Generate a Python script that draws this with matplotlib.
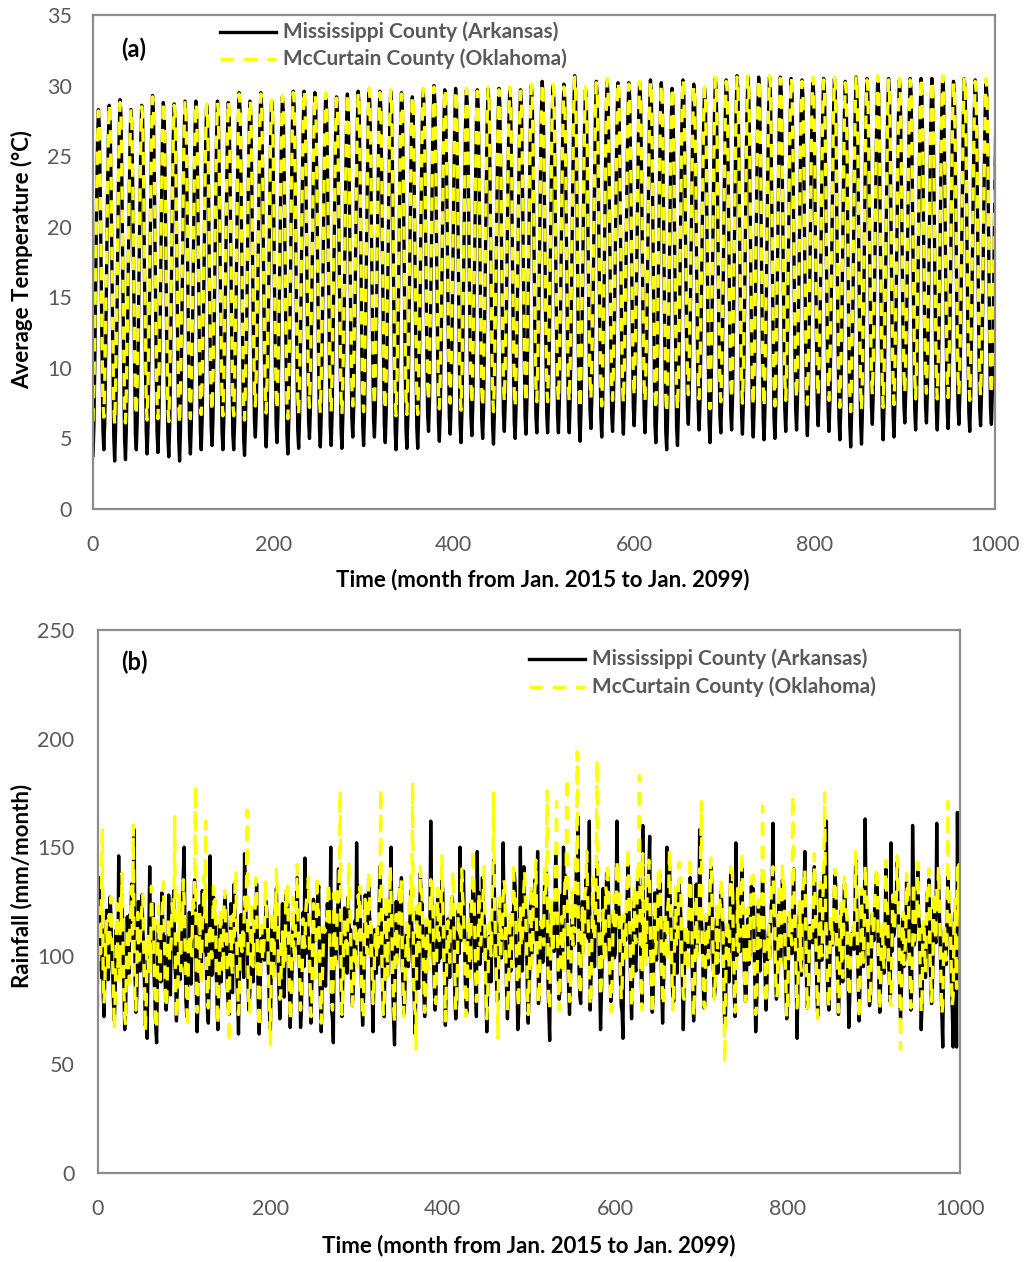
import matplotlib

matplotlib.use("Agg")

import matplotlib.pyplot as plt
import numpy as np
from matplotlib.lines import Line2D

plt.rcParams["font.family"] = ["Lato", "DejaVu Sans"]

# Monthly average temperature (deg C), one row per year, Jan..Dec, 2015-2098
ark_temp_rows = [
    [3.8, 5.9, 10.4, 16.2, 21.5, 25.9, 28.3, 27.1, 22.6, 16.7, 10.4, 5.6],
    [4.2, 6.1, 10.9, 16.5, 21.8, 26.2, 28.6, 27.5, 23.0, 16.9, 10.8, 5.2],
    [3.4, 5.5, 10.1, 16.0, 21.7, 26.5, 29.0, 27.9, 23.3, 16.5, 10.2, 5.0],
    [3.5, 5.8, 10.3, 16.4, 21.3, 25.8, 28.3, 27.2, 22.8, 16.8, 10.5, 5.3],
    [4.2, 6.2, 10.8, 16.6, 21.6, 26.1, 28.6, 27.6, 23.1, 17.0, 10.9, 5.5],
    [3.9, 5.8, 10.6, 16.3, 21.9, 26.8, 29.3, 28.1, 23.6, 16.9, 10.6, 5.4],
    [4.0, 6.0, 10.7, 16.2, 21.6, 26.3, 28.8, 27.7, 23.2, 16.7, 10.4, 5.2],
    [3.7, 5.7, 10.3, 16.5, 21.8, 26.2, 28.7, 27.6, 23.0, 16.8, 10.6, 5.0],
    [3.4, 5.6, 10.2, 16.1, 21.5, 26.4, 28.9, 27.8, 23.4, 16.6, 10.3, 5.3],
    [3.9, 6.0, 10.6, 16.4, 21.7, 26.5, 28.9, 27.7, 23.3, 17.0, 10.8, 5.5],
    [4.2, 6.3, 10.9, 16.7, 21.9, 26.1, 28.6, 27.5, 23.0, 16.9, 10.7, 5.8],
    [4.5, 6.4, 11.1, 16.6, 21.8, 26.4, 28.9, 27.9, 23.4, 17.1, 11.0, 5.6],
    [4.2, 6.2, 10.8, 16.5, 21.7, 26.3, 28.8, 27.7, 23.2, 16.8, 10.6, 5.3],
    [4.2, 6.1, 10.9, 16.8, 22.1, 27.0, 29.5, 28.3, 23.8, 17.2, 10.9, 5.0],
    [3.8, 5.9, 10.5, 16.4, 21.8, 26.4, 28.9, 27.8, 23.3, 17.0, 11.0, 6.2],
    [5.1, 7.0, 11.6, 17.1, 22.3, 27.0, 29.5, 28.4, 23.9, 17.4, 11.2, 5.9],
    [4.4, 6.4, 11.0, 16.7, 21.9, 26.5, 28.9, 27.8, 23.3, 17.0, 11.0, 6.0],
    [4.7, 6.7, 11.3, 16.9, 22.1, 26.7, 29.2, 28.1, 23.6, 17.2, 10.8, 5.3],
    [3.9, 6.1, 10.8, 16.9, 22.3, 27.1, 29.6, 28.5, 24.0, 17.3, 11.1, 5.6],
    [4.3, 6.4, 11.1, 17.0, 22.4, 27.1, 29.6, 28.4, 23.9, 17.5, 11.4, 6.3],
    [5.0, 7.0, 11.7, 17.2, 22.4, 27.0, 29.5, 28.4, 23.8, 17.3, 11.0, 5.8],
    [4.4, 6.5, 11.2, 17.0, 22.2, 26.9, 29.4, 28.3, 23.8, 17.4, 11.2, 5.9],
    [4.5, 6.5, 11.1, 16.8, 22.1, 26.7, 29.2, 28.1, 23.6, 17.2, 11.0, 5.7],
    [4.3, 6.5, 11.2, 17.0, 22.3, 26.9, 29.4, 28.3, 23.8, 17.5, 11.5, 6.4],
    [5.1, 7.1, 11.7, 17.3, 22.5, 27.1, 29.6, 28.5, 24.0, 17.6, 11.3, 5.9],
    [4.5, 6.6, 11.3, 17.2, 22.6, 27.2, 29.7, 28.6, 24.1, 17.7, 11.6, 6.4],
    [5.1, 7.1, 11.7, 17.3, 22.5, 27.1, 29.6, 28.5, 24.0, 17.5, 11.3, 6.0],
    [4.7, 6.7, 11.4, 17.1, 22.4, 27.1, 29.6, 28.5, 24.0, 17.4, 11.1, 5.6],
    [4.2, 6.3, 11.0, 16.9, 22.3, 27.0, 29.5, 28.4, 23.9, 17.3, 11.0, 5.6],
    [4.3, 6.4, 11.0, 16.8, 22.1, 26.7, 29.2, 28.1, 23.6, 17.2, 11.0, 5.7],
    [4.3, 6.5, 11.2, 17.1, 22.5, 27.2, 29.7, 28.6, 24.1, 17.7, 11.7, 6.7],
    [5.5, 7.5, 12.1, 17.6, 22.8, 27.5, 30.0, 28.9, 24.4, 17.9, 11.6, 6.1],
    [4.8, 6.9, 11.5, 17.3, 22.6, 27.2, 29.7, 28.6, 24.1, 17.8, 11.8, 6.6],
    [5.3, 7.3, 11.9, 17.5, 22.7, 27.3, 29.8, 28.7, 24.2, 17.7, 11.4, 6.0],
    [4.7, 6.8, 11.5, 17.3, 22.6, 27.2, 29.7, 28.6, 24.1, 17.7, 11.7, 6.5],
    [5.2, 7.2, 11.8, 17.4, 22.6, 27.2, 29.7, 28.6, 24.1, 17.6, 11.5, 6.3],
    [5.0, 7.1, 11.8, 17.5, 22.7, 27.3, 29.8, 28.7, 24.2, 17.7, 11.4, 5.9],
    [4.6, 6.8, 11.5, 17.4, 22.7, 27.3, 29.8, 28.7, 24.2, 17.9, 11.9, 6.8],
    [5.5, 7.5, 12.1, 17.6, 22.8, 27.3, 29.8, 28.7, 24.2, 17.8, 11.6, 6.2],
    [5.0, 7.1, 11.8, 17.5, 22.7, 27.2, 29.7, 28.6, 24.1, 17.8, 11.8, 6.6],
    [5.3, 7.4, 12.1, 17.7, 23.0, 27.5, 30.0, 28.9, 24.4, 18.0, 11.9, 6.7],
    [5.4, 7.5, 12.2, 17.9, 23.2, 27.8, 30.3, 29.2, 24.7, 18.2, 12.0, 6.8],
    [5.4, 7.5, 12.1, 17.7, 23.0, 27.5, 30.0, 28.9, 24.4, 18.0, 11.9, 6.7],
    [5.4, 7.5, 12.2, 17.8, 23.1, 27.6, 30.1, 29.0, 24.5, 18.1, 12.0, 6.6],
    [5.4, 7.6, 12.4, 18.2, 23.6, 28.2, 30.7, 29.6, 25.0, 18.4, 11.8, 6.2],
    [4.8, 6.9, 11.6, 17.3, 22.6, 27.2, 29.7, 28.6, 24.1, 17.9, 12.0, 7.0],
    [5.7, 7.8, 12.4, 18.0, 23.2, 27.8, 30.3, 29.2, 24.7, 18.2, 12.0, 6.6],
    [5.1, 7.3, 12.1, 17.9, 23.2, 27.9, 30.4, 29.3, 24.8, 18.3, 12.1, 6.8],
    [5.5, 7.6, 12.3, 17.9, 23.1, 27.7, 30.2, 29.1, 24.6, 18.1, 12.0, 6.8],
    [5.3, 7.5, 12.2, 17.9, 23.1, 27.7, 30.2, 29.1, 24.6, 18.3, 12.3, 7.2],
    [5.9, 8.0, 12.6, 18.1, 23.2, 27.7, 30.2, 29.1, 24.6, 18.2, 12.0, 6.7],
    [5.4, 7.6, 12.3, 18.0, 23.3, 27.9, 30.4, 29.3, 24.8, 18.1, 11.6, 6.0],
    [4.7, 6.9, 11.7, 17.6, 23.0, 27.7, 30.2, 29.1, 24.6, 17.8, 11.1, 5.5],
    [4.2, 6.4, 11.2, 17.2, 22.6, 27.3, 29.8, 28.7, 24.2, 17.6, 11.2, 5.8],
    [4.5, 6.8, 11.7, 17.7, 23.2, 27.9, 30.4, 29.3, 24.8, 18.4, 12.3, 7.3],
    [6.0, 8.0, 12.6, 18.1, 23.2, 27.6, 30.1, 29.0, 24.5, 18.3, 12.3, 7.1],
    [5.6, 7.6, 12.2, 17.7, 22.8, 27.3, 29.8, 28.7, 24.2, 17.8, 11.5, 6.2],
    [4.7, 7.0, 11.9, 17.9, 23.3, 28.0, 30.5, 29.4, 24.9, 18.3, 11.9, 6.6],
    [5.4, 7.6, 12.3, 18.0, 23.3, 27.9, 30.4, 29.3, 24.8, 18.3, 12.2, 6.9],
    [5.6, 7.8, 12.5, 18.3, 23.6, 28.2, 30.7, 29.6, 25.1, 18.5, 12.2, 6.8],
    [5.3, 7.5, 12.3, 18.1, 23.5, 28.1, 30.6, 29.5, 25.0, 18.4, 12.1, 6.6],
    [5.1, 7.3, 12.1, 18.0, 23.4, 28.1, 30.6, 29.5, 25.0, 18.3, 11.9, 6.4],
    [4.9, 7.2, 12.0, 17.9, 23.4, 28.1, 30.6, 29.5, 25.0, 18.4, 12.0, 6.5],
    [5.0, 7.3, 12.1, 18.0, 23.4, 28.1, 30.6, 29.5, 25.0, 18.5, 12.3, 7.0],
    [5.5, 7.7, 12.4, 18.1, 23.4, 28.0, 30.5, 29.4, 24.9, 18.5, 12.4, 7.1],
    [5.6, 7.8, 12.4, 18.1, 23.3, 27.9, 30.4, 29.3, 24.8, 18.3, 12.1, 6.8],
    [5.2, 7.4, 12.2, 18.0, 23.3, 28.0, 30.5, 29.4, 24.9, 18.5, 12.4, 7.3],
    [5.9, 8.0, 12.7, 18.3, 23.4, 28.0, 30.5, 29.4, 24.9, 18.5, 12.2, 6.9],
    [5.5, 7.6, 12.3, 18.0, 23.3, 28.0, 30.5, 29.4, 24.9, 18.3, 11.9, 6.4],
    [4.9, 7.1, 11.9, 17.8, 23.1, 27.8, 30.3, 29.2, 24.7, 18.0, 11.6, 6.0],
    [4.4, 6.7, 11.6, 17.7, 23.2, 28.1, 30.6, 29.5, 25.0, 18.2, 11.6, 6.2],
    [4.6, 6.9, 11.8, 17.8, 23.3, 28.0, 30.5, 29.4, 24.9, 18.5, 12.4, 7.3],
    [6.0, 8.1, 12.8, 18.4, 23.6, 28.1, 30.6, 29.5, 25.0, 18.4, 12.0, 6.6],
    [4.9, 7.2, 12.0, 17.9, 23.3, 28.0, 30.5, 29.4, 24.9, 18.3, 12.0, 6.7],
    [5.1, 7.3, 12.1, 17.9, 23.2, 27.9, 30.4, 29.3, 24.8, 18.5, 12.5, 7.4],
    [6.1, 8.2, 12.8, 18.4, 23.5, 28.0, 30.5, 29.4, 24.9, 18.6, 12.4, 7.1],
    [5.6, 7.8, 12.5, 18.2, 23.4, 28.0, 30.5, 29.4, 24.9, 18.6, 12.5, 7.3],
    [6.1, 8.2, 12.8, 18.4, 23.5, 28.0, 30.5, 29.4, 24.9, 18.5, 12.2, 6.9],
    [5.6, 7.8, 12.5, 18.3, 23.5, 28.1, 30.6, 29.5, 25.0, 18.5, 12.2, 7.0],
    [5.7, 7.8, 12.5, 18.1, 23.3, 27.8, 30.3, 29.2, 24.7, 18.4, 12.3, 7.2],
    [6.0, 8.1, 12.8, 18.3, 23.5, 28.0, 30.5, 29.4, 24.9, 18.4, 12.1, 6.8],
    [5.5, 7.7, 12.4, 18.1, 23.3, 27.9, 30.4, 29.3, 24.8, 18.4, 12.3, 7.1],
    [5.9, 8.0, 12.7, 18.2, 23.4, 27.9, 30.4, 29.3, 24.8, 18.5, 12.3, 7.1],
    [6.0, 8.1, 12.7, 18.3, 23.4, 27.9, 30.4, 29.3, 24.8, 18.5, 12.4, 7.2],
]
ark_temp_last = 6.1  # Jan. 2099

mcc_temp_rows = [
    [6.2, 8.5, 12.6, 17.3, 21.8, 25.9, 28.2, 27.6, 23.4, 17.9, 11.9, 7.6],
    [6.5, 8.7, 12.9, 17.6, 22.1, 26.4, 28.7, 28.1, 23.9, 18.1, 12.1, 7.4],
    [6.0, 8.3, 12.4, 17.2, 22.0, 26.5, 28.8, 28.2, 24.0, 17.8, 11.8, 7.3],
    [6.1, 8.4, 12.6, 17.5, 21.8, 26.1, 28.4, 27.8, 23.6, 18.0, 12.0, 7.7],
    [6.6, 8.9, 13.0, 17.7, 22.0, 26.2, 28.5, 27.9, 23.7, 18.2, 12.2, 7.5],
    [6.3, 8.6, 12.8, 17.5, 22.3, 26.9, 29.2, 28.6, 24.4, 18.1, 12.0, 7.6],
    [6.4, 8.7, 12.8, 17.4, 22.0, 26.6, 28.9, 28.3, 24.1, 17.9, 11.9, 7.4],
    [6.2, 8.5, 12.6, 17.6, 22.1, 26.3, 28.6, 28.0, 23.8, 18.0, 12.0, 7.3],
    [6.0, 8.3, 12.5, 17.3, 21.9, 26.7, 29.0, 28.4, 24.2, 17.8, 11.8, 7.6],
    [6.4, 8.7, 12.8, 17.6, 22.0, 26.5, 28.8, 28.2, 24.0, 18.2, 12.3, 7.8],
    [6.7, 9.0, 13.1, 17.8, 22.2, 26.4, 28.7, 28.1, 23.9, 18.1, 12.2, 8.0],
    [6.9, 9.2, 13.3, 17.8, 22.2, 26.5, 28.8, 28.2, 24.0, 18.3, 12.4, 7.9],
    [6.6, 8.9, 13.0, 17.7, 22.1, 26.6, 28.9, 28.3, 24.1, 18.0, 12.0, 7.6],
    [6.6, 8.9, 13.0, 17.9, 22.5, 27.1, 29.4, 28.8, 24.6, 18.4, 12.3, 7.4],
    [6.3, 8.6, 12.8, 17.6, 22.2, 26.7, 29.0, 28.4, 24.2, 18.3, 12.5, 8.3],
    [7.3, 9.6, 13.7, 18.2, 22.6, 27.1, 29.4, 28.8, 24.6, 18.6, 12.6, 8.1],
    [6.8, 9.1, 13.2, 17.9, 22.3, 26.7, 29.0, 28.4, 24.2, 18.3, 12.4, 8.2],
    [7.0, 9.3, 13.4, 18.0, 22.5, 27.0, 29.3, 28.7, 24.5, 18.4, 12.2, 7.6],
    [6.4, 8.7, 12.9, 17.9, 22.6, 27.2, 29.5, 28.9, 24.7, 18.5, 12.5, 7.9],
    [6.7, 9.0, 13.1, 18.1, 22.8, 27.4, 29.7, 29.1, 24.9, 18.7, 12.8, 8.5],
    [7.2, 9.5, 13.6, 18.2, 22.7, 27.1, 29.4, 28.8, 24.6, 18.5, 12.4, 8.0],
    [6.8, 9.1, 13.2, 18.1, 22.6, 27.2, 29.5, 28.9, 24.7, 18.6, 12.6, 8.1],
    [6.9, 9.2, 13.3, 17.9, 22.4, 26.8, 29.1, 28.5, 24.3, 18.4, 12.4, 7.9],
    [6.7, 9.0, 13.2, 18.1, 22.7, 27.2, 29.5, 28.9, 24.7, 18.7, 12.9, 8.6],
    [7.3, 9.6, 13.7, 18.3, 22.8, 27.2, 29.5, 28.9, 24.7, 18.7, 12.7, 8.1],
    [6.9, 9.2, 13.4, 18.3, 23.0, 27.5, 29.8, 29.2, 25.0, 18.9, 13.0, 8.6],
    [7.3, 9.6, 13.7, 18.3, 22.8, 27.2, 29.5, 28.9, 24.7, 18.7, 12.7, 8.2],
    [7.0, 9.3, 13.5, 18.2, 22.8, 27.4, 29.7, 29.1, 24.9, 18.6, 12.5, 7.8],
    [6.6, 8.9, 13.1, 18.0, 22.6, 27.1, 29.4, 28.8, 24.6, 18.5, 12.4, 7.8],
    [6.7, 9.0, 13.1, 17.9, 22.5, 27.0, 29.3, 28.7, 24.5, 18.4, 12.4, 7.9],
    [6.7, 9.0, 13.2, 18.2, 22.9, 27.5, 29.8, 29.2, 25.0, 18.9, 13.1, 8.8],
    [7.6, 9.9, 14.0, 18.6, 23.1, 27.6, 29.9, 29.3, 25.1, 19.0, 12.9, 8.3],
    [7.1, 9.4, 13.6, 18.4, 23.0, 27.5, 29.8, 29.2, 25.0, 19.0, 13.1, 8.7],
    [7.5, 9.8, 13.9, 18.5, 22.9, 27.4, 29.7, 29.1, 24.9, 18.8, 12.7, 8.2],
    [7.0, 9.3, 13.5, 18.3, 23.0, 27.5, 29.8, 29.2, 25.0, 18.9, 13.0, 8.7],
    [7.4, 9.7, 13.8, 18.4, 22.8, 27.3, 29.6, 29.0, 24.8, 18.8, 12.8, 8.4],
    [7.2, 9.5, 13.7, 18.5, 23.1, 27.6, 29.9, 29.3, 25.1, 18.9, 12.8, 8.2],
    [6.9, 9.2, 13.4, 18.3, 22.9, 27.4, 29.7, 29.1, 24.9, 19.0, 13.2, 8.9],
    [7.6, 9.9, 14.0, 18.6, 23.1, 27.6, 29.9, 29.3, 25.1, 19.0, 12.9, 8.4],
    [7.2, 9.5, 13.6, 18.4, 22.9, 27.3, 29.6, 29.0, 24.8, 18.9, 13.0, 8.7],
    [7.5, 9.8, 14.0, 18.7, 23.3, 27.8, 30.1, 29.5, 25.3, 19.2, 13.2, 8.8],
    [7.6, 9.9, 14.1, 18.8, 23.4, 27.9, 30.2, 29.6, 25.4, 19.3, 13.2, 8.9],
    [7.6, 9.9, 14.0, 18.7, 23.3, 27.8, 30.1, 29.5, 25.3, 19.2, 13.2, 8.8],
    [7.6, 9.9, 14.0, 18.7, 23.2, 27.6, 29.9, 29.3, 25.1, 19.1, 13.1, 8.6],
    [7.6, 9.9, 14.2, 19.0, 23.7, 28.3, 30.6, 30.0, 25.8, 19.4, 13.1, 8.4],
    [7.1, 9.4, 13.6, 18.5, 23.1, 27.6, 29.9, 29.3, 25.1, 19.2, 13.3, 9.1],
    [7.8, 10.1, 14.2, 18.9, 23.4, 27.9, 30.2, 29.6, 25.4, 19.3, 13.3, 8.8],
    [7.3, 9.6, 13.9, 18.8, 23.5, 28.2, 30.5, 29.9, 25.7, 19.5, 13.4, 9.0],
    [7.7, 10.0, 14.2, 18.9, 23.5, 28.0, 30.3, 29.7, 25.5, 19.4, 13.3, 8.9],
    [7.5, 9.8, 14.0, 18.8, 23.3, 27.8, 30.1, 29.5, 25.3, 19.4, 13.5, 9.3],
    [8.0, 10.3, 14.4, 19.0, 23.5, 28.0, 30.3, 29.7, 25.5, 19.4, 13.3, 8.8],
    [7.6, 9.9, 14.1, 18.9, 23.5, 28.0, 30.3, 29.7, 25.5, 19.2, 12.9, 8.2],
    [7.0, 9.3, 13.6, 18.5, 23.2, 27.8, 30.1, 29.5, 25.3, 19.0, 12.8, 8.0],
    [6.8, 9.1, 13.3, 18.3, 23.0, 27.6, 29.9, 29.3, 25.1, 19.0, 13.0, 8.3],
    [7.0, 9.3, 13.7, 18.7, 23.5, 28.2, 30.5, 29.9, 25.7, 19.6, 13.7, 9.5],
    [8.1, 10.4, 14.5, 19.0, 23.4, 27.7, 30.0, 29.4, 25.2, 19.4, 13.5, 9.3],
    [7.8, 10.1, 14.2, 18.8, 23.2, 27.6, 29.9, 29.3, 25.1, 19.0, 12.8, 8.4],
    [7.1, 9.4, 13.8, 18.8, 23.6, 28.3, 30.6, 30.0, 25.8, 19.5, 13.3, 8.8],
    [7.6, 9.9, 14.1, 18.9, 23.5, 28.0, 30.3, 29.7, 25.5, 19.4, 13.4, 9.0],
    [7.8, 10.1, 14.3, 19.1, 23.8, 28.3, 30.6, 30.0, 25.8, 19.6, 13.4, 8.9],
    [7.5, 9.8, 14.1, 19.0, 23.8, 28.4, 30.7, 30.1, 25.9, 19.6, 13.3, 8.8],
    [7.3, 9.6, 13.9, 18.8, 23.6, 28.2, 30.5, 29.9, 25.7, 19.4, 13.2, 8.7],
    [7.2, 9.5, 13.9, 18.9, 23.7, 28.4, 30.7, 30.1, 25.9, 19.6, 13.4, 8.9],
    [7.3, 9.6, 13.9, 18.8, 23.6, 28.2, 30.5, 29.9, 25.7, 19.6, 13.6, 9.2],
    [7.7, 10.0, 14.2, 19.0, 23.7, 28.3, 30.6, 30.0, 25.8, 19.7, 13.7, 9.3],
    [7.8, 10.1, 14.2, 18.9, 23.5, 28.0, 30.3, 29.7, 25.5, 19.4, 13.4, 9.0],
    [7.4, 9.7, 14.0, 18.9, 23.6, 28.3, 30.6, 30.0, 25.8, 19.7, 13.8, 9.5],
    [8.0, 10.3, 14.4, 19.1, 23.6, 28.1, 30.4, 29.8, 25.6, 19.6, 13.5, 9.1],
    [7.7, 10.0, 14.2, 19.0, 23.7, 28.3, 30.6, 30.0, 25.8, 19.5, 13.2, 8.7],
    [7.2, 9.5, 13.8, 18.7, 23.3, 27.9, 30.2, 29.6, 25.4, 19.1, 12.9, 8.3],
    [6.9, 9.2, 13.6, 18.7, 23.6, 28.4, 30.7, 30.1, 25.9, 19.4, 13.1, 8.5],
    [7.0, 9.3, 13.6, 18.6, 23.4, 28.1, 30.4, 29.8, 25.6, 19.6, 13.8, 9.5],
    [8.1, 10.4, 14.6, 19.3, 23.9, 28.4, 30.7, 30.1, 25.9, 19.7, 13.5, 8.9],
    [7.2, 9.5, 13.8, 18.7, 23.4, 28.1, 30.4, 29.8, 25.6, 19.5, 13.4, 9.0],
    [7.4, 9.7, 14.0, 18.8, 23.5, 28.2, 30.5, 29.9, 25.7, 19.7, 13.9, 9.6],
    [8.2, 10.5, 14.6, 19.2, 23.7, 28.1, 30.4, 29.8, 25.6, 19.7, 13.8, 9.4],
    [7.8, 10.1, 14.3, 19.1, 23.7, 28.3, 30.6, 30.0, 25.8, 19.8, 13.8, 9.5],
    [8.2, 10.5, 14.6, 19.2, 23.7, 28.1, 30.4, 29.8, 25.6, 19.6, 13.6, 9.2],
    [7.8, 10.1, 14.4, 19.2, 23.9, 28.4, 30.7, 30.1, 25.9, 19.7, 13.6, 9.3],
    [7.9, 10.2, 14.3, 19.0, 23.4, 27.9, 30.2, 29.6, 25.4, 19.5, 13.6, 9.4],
    [8.1, 10.4, 14.5, 19.2, 23.8, 28.3, 30.6, 30.0, 25.8, 19.7, 13.6, 9.1],
    [7.7, 10.0, 14.2, 18.9, 23.5, 28.0, 30.3, 29.7, 25.5, 19.5, 13.6, 9.3],
    [8.0, 10.3, 14.4, 19.1, 23.6, 28.2, 30.5, 29.9, 25.7, 19.7, 13.7, 9.4],
    [8.1, 10.4, 14.5, 19.1, 23.6, 28.0, 30.3, 29.7, 25.5, 19.6, 13.7, 9.5],
]
mcc_temp_last = 8.2

# Monthly rainfall (mm/month), one row per year, Jan..Dec
ark_rain_rows = [
    [101, 136, 104, 118, 90, 112, 83, 72, 95, 104, 121, 98],
    [89, 110, 127, 119, 98, 92, 78, 70, 84, 112, 101, 92],
    [146, 104, 121, 111, 128, 101, 88, 66, 74, 97, 118, 106],
    [92, 119, 112, 133, 108, 124, 158, 90, 74, 81, 104, 125],
    [99, 93, 116, 128, 113, 102, 84, 68, 77, 62, 97, 110],
    [141, 106, 120, 110, 124, 91, 80, 67, 60, 89, 114, 95],
    [104, 88, 129, 117, 101, 109, 87, 75, 81, 93, 128, 101],
    [82, 113, 107, 123, 130, 97, 91, 70, 86, 110, 99, 89],
    [116, 95, 124, 139, 150, 103, 79, 72, 87, 98, 120, 93],
    [87, 108, 118, 113, 135, 114, 84, 65, 80, 106, 123, 105],
    [96, 130, 110, 119, 102, 118, 90, 74, 69, 90, 146, 113],
    [91, 101, 127, 111, 118, 95, 81, 66, 83, 114, 105, 88],
    [108, 113, 102, 128, 122, 107, 86, 77, 73, 97, 124, 99],
    [83, 117, 133, 116, 105, 92, 80, 64, 90, 104, 119, 110],
    [100, 90, 147, 129, 113, 109, 88, 75, 82, 93, 113, 97],
    [88, 109, 122, 115, 133, 101, 77, 64, 78, 108, 101, 104],
    [113, 98, 111, 125, 119, 105, 89, 73, 66, 95, 117, 91],
    [93, 122, 116, 131, 107, 97, 82, 71, 87, 106, 124, 101],
    [81, 104, 128, 120, 124, 111, 85, 67, 80, 91, 111, 115],
    [103, 116, 108, 136, 114, 100, 91, 67, 75, 105, 120, 95],
    [145, 101, 130, 117, 110, 106, 83, 69, 86, 99, 126, 107],
    [110, 119, 114, 128, 132, 95, 79, 65, 81, 110, 104, 93],
    [86, 107, 124, 119, 116, 109, 150, 75, 71, 60, 114, 102],
    [97, 111, 118, 140, 121, 104, 84, 72, 89, 100, 122, 108],
    [105, 92, 127, 115, 111, 112, 92, 77, 83, 105, 116, 97],
    [152, 120, 113, 132, 126, 99, 81, 68, 79, 95, 128, 111],
    [101, 108, 135, 118, 115, 106, 86, 65, 88, 112, 107, 92],
    [112, 96, 120, 141, 128, 102, 89, 76, 72, 101, 119, 105],
    [91, 117, 110, 124, 150, 108, 83, 70, 59, 90, 125, 99],
    [107, 122, 131, 114, 136, 96, 85, 73, 82, 107, 111, 113],
    [95, 103, 118, 130, 113, 110, 90, 78, 64, 97, 122, 94],
    [85, 114, 138, 121, 124, 105, 82, 72, 87, 113, 103, 109],
    [102, 110, 162, 126, 118, 100, 88, 75, 81, 104, 127, 97],
    [115, 99, 122, 135, 130, 111, 93, 68, 85, 93, 117, 106],
    [90, 119, 116, 127, 121, 103, 81, 71, 78, 109, 121, 101],
    [150, 107, 130, 118, 139, 113, 89, 77, 74, 99, 114, 111],
    [94, 124, 113, 133, 122, 98, 85, 72, 148, 106, 129, 96],
    [109, 102, 136, 120, 117, 110, 87, 65, 83, 95, 109, 103],
    [88, 116, 120, 144, 127, 105, 92, 79, 80, 111, 124, 113],
    [99, 111, 152, 123, 119, 108, 84, 71, 86, 101, 116, 93],
    [114, 120, 117, 138, 131, 101, 90, 66, 73, 107, 150, 107],
    [93, 106, 141, 122, 121, 112, 86, 69, 82, 96, 130, 100],
    [107, 126, 119, 135, 110, 106, 148, 78, 87, 113, 108, 112],
    [97, 112, 132, 128, 140, 109, 88, 74, 61, 103, 120, 104],
    [110, 102, 124, 147, 125, 114, 91, 80, 84, 108, 128, 95],
    [150, 121, 137, 131, 122, 104, 85, 73, 89, 101, 117, 115],
    [105, 116, 126, 140, 134, 164, 94, 81, 78, 111, 125, 102],
    [118, 109, 135, 124, 129, 108, 162, 75, 91, 106, 113, 108],
    [95, 125, 120, 143, 117, 111, 87, 66, 83, 98, 131, 105],
    [111, 105, 138, 127, 136, 101, 92, 79, 85, 114, 119, 99],
    [101, 123, 162, 131, 123, 113, 90, 77, 74, 62, 110, 116],
    [107, 118, 129, 145, 120, 106, 86, 71, 88, 109, 126, 96],
    [93, 110, 136, 123, 132, 116, 93, 78, 160, 102, 114, 110],
    [113, 100, 122, 139, 155, 103, 88, 74, 81, 107, 129, 100],
    [98, 121, 131, 118, 137, 110, 85, 69, 86, 96, 116, 112],
    [150, 113, 119, 141, 122, 107, 91, 80, 79, 111, 124, 94],
    [92, 126, 134, 127, 119, 112, 87, 66, 90, 101, 111, 107],
    [106, 104, 121, 136, 130, 100, 83, 70, 82, 108, 133, 102],
    [112, 117, 158, 122, 116, 109, 89, 76, 77, 97, 119, 114],
    [96, 110, 128, 141, 134, 105, 94, 81, 85, 112, 122, 92],
    [108, 122, 118, 130, 120, 113, 88, 68, 73, 104, 113, 109],
    [88, 114, 139, 125, 127, 102, 84, 72, 152, 100, 127, 103],
    [110, 102, 124, 142, 114, 108, 91, 79, 81, 110, 117, 96],
    [100, 119, 132, 120, 131, 110, 86, 65, 76, 95, 123, 111],
    [93, 107, 120, 137, 124, 103, 89, 75, 87, 106, 112, 99],
    [114, 123, 127, 161, 119, 111, 92, 80, 83, 109, 129, 104],
    [97, 111, 135, 123, 129, 99, 85, 71, 78, 98, 118, 113],
    [108, 101, 121, 140, 116, 106, 90, 62, 86, 111, 124, 94],
    [91, 120, 130, 126, 148, 112, 87, 76, 81, 103, 114, 107],
    [111, 106, 118, 141, 122, 101, 83, 72, 89, 108, 130, 98],
    [98, 124, 137, 120, 115, 162, 91, 78, 75, 96, 116, 112],
    [105, 109, 125, 138, 131, 104, 88, 73, 84, 113, 121, 93],
    [88, 118, 133, 122, 119, 114, 92, 67, 79, 100, 110, 108],
    [113, 103, 119, 144, 127, 102, 86, 70, 87, 106, 128, 101],
    [95, 115, 163, 125, 121, 110, 89, 77, 80, 94, 119, 114],
    [107, 123, 128, 137, 133, 106, 85, 74, 88, 110, 113, 97],
    [92, 108, 140, 121, 117, 99, 90, 79, 152, 102, 125, 109],
    [112, 119, 122, 143, 124, 111, 84, 71, 83, 107, 118, 95],
    [99, 105, 134, 119, 130, 103, 92, 75, 85, 160, 131, 105],
    [109, 121, 117, 139, 118, 113, 87, 66, 79, 112, 115, 100],
    [90, 110, 129, 124, 135, 101, 89, 78, 87, 104, 126, 110],
    [106, 161, 119, 137, 122, 107, 86, 72, 58, 99, 112, 102],
    [96, 116, 138, 122, 118, 109, 90, 76, 58, 108, 123, 103],
    [58, 166, 117, 139, 128, 105, 88, 74, 81, 101, 117, 107],
]
ark_rain_last = 98

mcc_rain_rows = [
    [76, 110, 122, 101, 131, 158, 91, 78, 86, 110, 116, 101],
    [92, 119, 107, 127, 114, 97, 85, 66, 81, 105, 124, 95],
    [103, 89, 129, 116, 138, 108, 83, 72, 68, 98, 113, 109],
    [87, 113, 120, 132, 110, 160, 95, 79, 75, 93, 120, 103],
    [98, 106, 116, 123, 128, 104, 88, 65, 79, 108, 109, 90],
    [110, 96, 132, 118, 120, 100, 81, 69, 66, 95, 123, 106],
    [89, 116, 111, 129, 134, 110, 89, 76, 83, 103, 118, 98],
    [101, 108, 124, 120, 117, 164, 84, 71, 78, 91, 128, 111],
    [93, 121, 114, 135, 125, 105, 91, 77, 67, 107, 110, 100],
    [108, 100, 128, 122, 131, 178, 87, 74, 81, 99, 120, 94],
    [87, 117, 119, 137, 118, 162, 93, 79, 76, 109, 115, 105],
    [99, 111, 132, 118, 126, 102, 82, 68, 84, 96, 122, 108],
    [105, 92, 121, 130, 114, 109, 90, 76, 60, 101, 118, 96],
    [91, 119, 109, 133, 139, 106, 86, 73, 80, 111, 107, 102],
    [111, 104, 127, 119, 122, 167, 94, 78, 74, 94, 125, 108],
    [95, 116, 117, 136, 129, 99, 83, 67, 85, 106, 114, 98],
    [102, 109, 134, 124, 116, 111, 89, 74, 59, 97, 121, 110],
    [88, 123, 113, 140, 127, 103, 92, 80, 82, 108, 111, 93],
    [108, 98, 130, 121, 133, 107, 85, 70, 77, 102, 127, 106],
    [97, 114, 119, 142, 118, 101, 91, 75, 83, 95, 117, 109],
    [104, 120, 126, 128, 136, 110, 87, 72, 74, 112, 124, 97],
    [90, 106, 137, 122, 120, 105, 82, 69, 86, 100, 113, 111],
    [112, 117, 116, 134, 129, 108, 93, 79, 75, 90, 129, 101],
    [96, 110, 131, 125, 138, 176, 88, 73, 81, 107, 118, 104],
    [107, 100, 120, 143, 124, 112, 90, 77, 84, 98, 116, 96],
    [93, 122, 128, 119, 132, 102, 85, 71, 72, 110, 126, 108],
    [101, 112, 139, 131, 117, 109, 92, 78, 87, 103, 112, 99],
    [113, 104, 124, 127, 177, 106, 86, 73, 79, 96, 128, 107],
    [91, 118, 117, 141, 126, 111, 89, 76, 69, 109, 119, 97],
    [106, 110, 133, 124, 135, 101, 83, 72, 85, 99, 115, 112],
    [98, 126, 122, 137, 120, 180, 91, 77, 74, 57, 123, 102],
    [109, 102, 141, 129, 128, 107, 87, 74, 83, 111, 117, 95],
    [94, 118, 135, 122, 136, 113, 93, 80, 78, 101, 131, 109],
    [107, 113, 125, 146, 123, 105, 85, 70, 86, 107, 116, 100],
    [97, 121, 118, 133, 139, 110, 90, 75, 81, 96, 124, 111],
    [110, 106, 140, 127, 122, 103, 88, 72, 75, 113, 118, 97],
    [90, 119, 129, 149, 130, 115, 92, 79, 87, 103, 129, 105],
    [105, 111, 122, 130, 141, 107, 84, 71, 80, 100, 115, 110],
    [100, 124, 138, 175, 125, 109, 91, 77, 62, 108, 127, 98],
    [112, 108, 127, 135, 132, 102, 86, 74, 83, 97, 120, 107],
    [95, 122, 143, 124, 128, 112, 93, 81, 76, 112, 122, 104],
    [108, 114, 130, 139, 122, 108, 88, 73, 85, 105, 133, 96],
    [98, 128, 123, 132, 144, 106, 90, 78, 82, 110, 116, 113],
    [111, 105, 142, 128, 133, 176, 94, 80, 75, 99, 125, 102],
    [101, 119, 132, 147, 171, 111, 89, 75, 87, 107, 118, 108],
    [92, 125, 137, 133, 182, 116, 92, 79, 80, 102, 130, 105],
    [113, 111, 146, 139, 194, 123, 95, 82, 86, 114, 122, 100],
    [103, 129, 131, 148, 128, 110, 90, 77, 83, 106, 136, 110],
    [107, 117, 140, 190, 137, 114, 93, 81, 88, 109, 121, 103],
    [97, 132, 128, 143, 131, 108, 87, 74, 79, 101, 128, 114],
    [111, 115, 144, 135, 139, 117, 94, 80, 85, 112, 119, 99],
    [100, 126, 133, 150, 126, 111, 91, 76, 81, 105, 132, 108],
    [106, 114, 141, 137, 183, 113, 89, 75, 147, 97, 117, 111],
    [95, 128, 130, 144, 132, 107, 87, 73, 84, 110, 126, 101],
    [109, 111, 138, 131, 140, 115, 93, 79, 77, 100, 120, 112],
    [98, 122, 127, 149, 129, 109, 88, 75, 86, 108, 133, 104],
    [105, 118, 143, 134, 136, 103, 92, 81, 80, 98, 115, 110],
    [93, 125, 132, 146, 125, 112, 86, 72, 83, 106, 128, 100],
    [110, 113, 140, 138, 171, 107, 90, 77, 76, 111, 119, 107],
    [99, 120, 129, 145, 134, 110, 94, 80, 87, 102, 124, 97],
    [106, 127, 122, 136, 128, 114, 87, 51, 78, 108, 117, 112],
    [94, 116, 141, 130, 139, 106, 89, 74, 84, 100, 131, 102],
    [111, 109, 128, 148, 124, 113, 92, 79, 81, 112, 122, 105],
    [97, 123, 136, 131, 137, 108, 85, 73, 77, 97, 126, 109],
    [104, 115, 125, 169, 130, 104, 91, 78, 86, 107, 114, 99],
    [108, 129, 134, 141, 123, 116, 93, 81, 82, 110, 133, 105],
    [96, 112, 143, 128, 135, 102, 87, 72, 79, 99, 120, 113],
    [109, 105, 174, 142, 121, 109, 90, 76, 85, 109, 125, 97],
    [93, 124, 132, 134, 140, 113, 88, 75, 80, 104, 116, 108],
    [107, 111, 124, 147, 127, 105, 84, 71, 88, 111, 134, 101],
    [100, 127, 139, 175, 119, 111, 92, 79, 76, 97, 119, 114],
    [105, 113, 130, 140, 136, 106, 89, 74, 83, 114, 124, 94],
    [90, 122, 137, 129, 123, 116, 93, 82, 81, 102, 112, 110],
    [113, 107, 123, 148, 132, 104, 87, 71, 86, 108, 131, 103],
    [97, 118, 142, 130, 125, 112, 90, 78, 79, 96, 121, 115],
    [109, 126, 132, 141, 138, 108, 86, 75, 89, 112, 115, 99],
    [94, 111, 144, 125, 121, 101, 91, 80, 77, 104, 128, 111],
    [114, 121, 126, 146, 129, 113, 85, 57, 84, 109, 120, 96],
    [101, 108, 138, 123, 135, 105, 93, 76, 86, 99, 134, 107],
    [110, 123, 120, 143, 122, 115, 88, 74, 80, 113, 117, 102],
    [92, 113, 133, 128, 140, 103, 90, 79, 88, 106, 129, 112],
    [107, 131, 122, 141, 126, 110, 87, 73, 78, 101, 115, 104],
    [98, 118, 171, 127, 122, 112, 91, 77, 81, 110, 126, 105],
    [85, 143, 119, 142, 132, 107, 89, 75, 82, 103, 119, 109],
]
mcc_rain_last = 100

ark_label = "Mississippi County (Arkansas)"
mcc_label = "McCurtain County (Oklahoma)"
x_label = "Time (month from Jan. 2015 to Jan. 2099)"


def flatten(rows, last):
    return np.array([v for row in rows for v in row] + [last], dtype=float)


ark_temp = flatten(ark_temp_rows, ark_temp_last)
mcc_temp = flatten(mcc_temp_rows, mcc_temp_last)
ark_rain = flatten(ark_rain_rows, ark_rain_last)
mcc_rain = flatten(mcc_rain_rows, mcc_rain_last)
months = np.arange(len(ark_temp))

W, H = 1027, 1262
fig = plt.figure(figsize=(W / 100, H / 100), dpi=100)

GRAY = "#595959"
SPINE = "#8c8c8c"
YELLOW = "#ffff00"
LW = 2.4
DASH = (0, (4, 3))


def px_box(left, top, right, bottom):
    return [left / W, 1 - bottom / H, (right - left) / W, (bottom - top) / H]


def style_axes(ax, ymax, ystep, ypad):
    ax.set_xlim(0, 1000)
    ax.set_ylim(0, ymax)
    ax.set_xticks(np.arange(0, 1001, 200))
    ax.set_yticks(np.arange(0, ymax + 1, ystep))
    ax.tick_params(length=0, labelsize=15.5, labelcolor=GRAY)
    ax.tick_params(axis="x", pad=19)
    ax.tick_params(axis="y", pad=ypad)
    for s in ax.spines.values():
        s.set_color(SPINE)
        s.set_linewidth(1.6)


def legend_rows(x0, y0, dy):
    entries = [(ark_label, "black", "-"), (mcc_label, YELLOW, DASH)]
    for i, (lab, col, ls) in enumerate(entries):
        y = 1 - (y0 + i * dy) / H
        fig.add_artist(Line2D([x0 / W, (x0 + 56) / W], [y, y], transform=fig.transFigure,
                              color=col, lw=LW, linestyle=ls, dash_capstyle="butt"))
        fig.text((x0 + 63) / W, y, lab, ha="left", va="center", fontsize=15,
                 fontweight="bold", color=GRAY)


# (a) temperature
ax1 = fig.add_axes(px_box(93, 15, 995, 509))
ax1.plot(months, ark_temp, color="black", lw=LW, solid_joinstyle="round")
ax1.plot(months, mcc_temp, color=YELLOW, lw=LW, linestyle=DASH, dash_capstyle="butt")
style_axes(ax1, 35, 5, 15)
fig.text(121 / W, 1 - 49 / H, "(a)", ha="left", va="center", fontsize=17, fontweight="bold")
fig.text(543 / W, 1 - 580 / H, x_label, ha="center", va="center", fontsize=16, fontweight="bold")
fig.text(22 / W, 1 - 260 / H, "Average Temperature (°C)", ha="center", va="center",
         rotation=90, fontsize=16, fontweight="bold")
legend_rows(220, 32, 27)

# (b) rainfall
ax2 = fig.add_axes(px_box(98, 630, 960, 1173))
ax2.plot(months, ark_rain, color="black", lw=LW, solid_joinstyle="round")
ax2.plot(months, mcc_rain, color=YELLOW, lw=LW, linestyle=DASH, dash_capstyle="butt")
style_axes(ax2, 250, 50, 17)
fig.text(121 / W, 1 - 662 / H, "(b)", ha="left", va="center", fontsize=17, fontweight="bold")
fig.text(529 / W, 1 - 1246 / H, x_label, ha="center", va="center", fontsize=16, fontweight="bold")
fig.text(22 / W, 1 - 886 / H, "Rainfall (mm/month)", ha="center", va="center",
         rotation=90, fontsize=16, fontweight="bold")
legend_rows(529, 659, 28)

fig.savefig("out.png", dpi=100)
